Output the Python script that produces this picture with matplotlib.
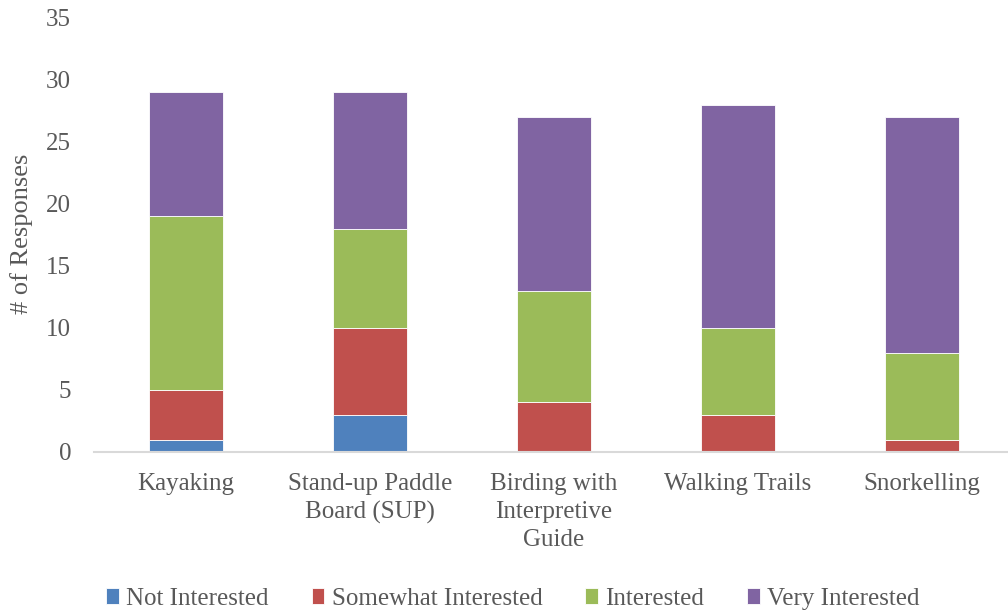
import matplotlib
matplotlib.use("Agg")
import matplotlib.pyplot as plt
import numpy as np

categories = ["Kayaking", "Stand-up Paddle\nBoard (SUP)", "Birding with\nInterpretive\nGuide",
              "Walking Trails", "Snorkelling"]
series_names = ["Not Interested", "Somewhat Interested", "Interested", "Very Interested"]
not_interested = [1, 3, 0, 0, 0]
somewhat_interested = [4, 7, 4, 3, 1]
interested = [14, 8, 9, 7, 7]
very_interested = [10, 11, 14, 18, 19]
colors = ["#4F81BD", "#C0504D", "#9BBB59", "#8064A2"]
y_ticks = [0, 5, 10, 15, 20, 25, 30, 35]

plt.rcParams['font.family'] = ['Liberation Serif', 'DejaVu Serif']
text_color = "#595959"
fs = 18

fig = plt.figure(figsize=(10.08, 6.10), dpi=100)
ax = fig.add_axes([94/1008, 1 - 452/610, 1 - 94/1008, (452 - 18)/610])

x = np.arange(len(categories))
bottom = np.zeros(len(categories))
for name, vals, c in zip(series_names,
                         [not_interested, somewhat_interested, interested, very_interested],
                         colors):
    ax.bar(x, vals, width=0.40, bottom=bottom, color=c, edgecolor="white",
           linewidth=0.6, label=name, zorder=3)
    bottom += np.array(vals)

ax.set_xlim(-0.5, 4.5 - 6/184)
ax.set_ylim(0, 35)
ax.set_yticks(y_ticks)
ax.set_yticklabels([str(t) for t in y_ticks])
ax.set_xticks(x)
ax.set_xticklabels(categories, linespacing=1.35)
ax.tick_params(axis='both', length=0, labelsize=fs, colors=text_color)
ax.tick_params(axis='y', pad=16.5)
ax.tick_params(axis='x', pad=15)
for s in ["top", "right", "left"]:
    ax.spines[s].set_visible(False)
ax.spines["bottom"].set_color("#D9D9D9")
ax.spines["bottom"].set_linewidth(1.5)
ax.spines["bottom"].set_zorder(4)

ax.set_ylabel("# of Responses", fontsize=19, color=text_color)
ax.yaxis.set_label_coords(-0.067, 0.502)

leg = fig.legend(loc="center", bbox_to_anchor=(513/1008, 1 - 599/610), ncol=4,
                 frameon=False, fontsize=fs, handlelength=0.5, handleheight=0.6,
                 handletextpad=0.3, columnspacing=1.72)
for t in leg.get_texts():
    t.set_color(text_color)

fig.savefig("out.png", dpi=100)
